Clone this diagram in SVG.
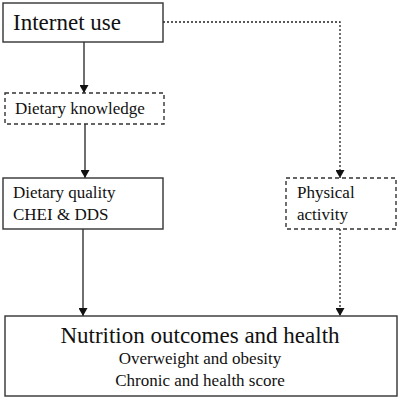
<svg xmlns="http://www.w3.org/2000/svg" width="400" height="400" viewBox="0 0 400 400">
<style>
.box{fill:#fff;stroke:#333;stroke-width:1.4}
.dbox{fill:#fff;stroke:#333;stroke-width:1.4;stroke-dasharray:4 3}
text{font-family:'Liberation Serif','Times New Roman','DejaVu Serif',serif;fill:#111}
.c{fill:none;stroke:#222;stroke-width:1.3}
.d{fill:none;stroke:#222;stroke-width:1.3;stroke-dasharray:2 2}
</style>
<defs>
<marker id="ah" viewBox="0 0 8 9" refX="8" refY="4.5" markerWidth="8" markerHeight="9" markerUnits="userSpaceOnUse" orient="auto">
<path d="M0,0 L8,4.5 L0,9 Z" fill="#111"/>
</marker>
</defs>
<rect width="400" height="400" fill="#fff"/>
<g id="connectors">
<line class="c" x1="84" y1="42" x2="84" y2="93" marker-end="url(#ah)"/>
<line class="c" x1="85" y1="124" x2="85" y2="178" marker-end="url(#ah)"/>
<line class="c" x1="83" y1="229" x2="83" y2="316" marker-end="url(#ah)"/>
<path class="d" d="M163,22 H340 V178" marker-end="url(#ah)"/>
<line class="d" x1="340" y1="229" x2="340" y2="316" marker-end="url(#ah)"/>
</g>
<g id="internet-use">
<rect class="box" x="3" y="3" width="160" height="39"/>
<text x="13" y="30" font-size="23" font-family="Liberation Serif, serif">Internet use</text>
</g>
<g id="dietary-knowledge">
<rect class="dbox" x="5" y="93" width="159" height="31"/>
<text x="15" y="114" font-size="17">Dietary knowledge</text>
</g>
<g id="dietary-quality">
<rect class="box" x="3" y="178" width="160" height="51"/>
<text x="13" y="198" font-size="17">Dietary quality</text>
<text x="13" y="220" font-size="17">CHEI &amp; DDS</text>
</g>
<g id="physical-activity">
<rect class="dbox" x="286" y="178" width="110" height="51"/>
<text x="297" y="198" font-size="17">Physical</text>
<text x="297" y="220" font-size="17">activity</text>
</g>
<g id="nutrition-outcomes">
<rect class="box" x="5" y="316" width="392" height="80"/>
<text x="200" y="343" font-size="23" text-anchor="middle">Nutrition outcomes and health</text>
<text x="200" y="364" font-size="17" text-anchor="middle">Overweight and obesity</text>
<text x="200" y="386" font-size="17" text-anchor="middle">Chronic and health score</text>
</g>
</svg>
